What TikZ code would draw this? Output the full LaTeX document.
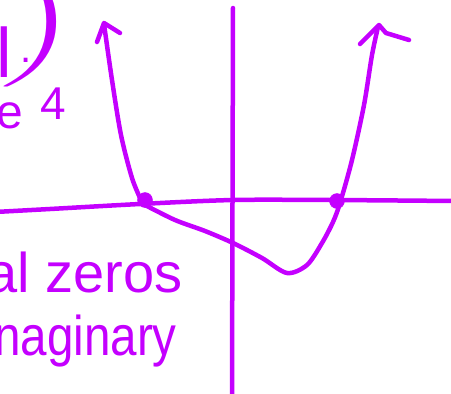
\documentclass[tikz,border=0pt]{standalone}
\usepackage{graphicx}
\usepackage{fontspec}
\setmainfont{Liberation Sans}
\definecolor{pen}{RGB}{196,0,255}
\begin{document}
\begin{tikzpicture}[x=1pt,y=-1pt,
  ink/.style={draw=pen,line width=4.5pt,line cap=round,line join=round},
  dotmark/.style={circle,fill=pen,draw=pen,inner sep=0pt,minimum size=15pt},
  hand/.style={text=pen,inner sep=0pt,anchor=base west}]
\useasboundingbox (0,0) rectangle (451,394);
\begin{scope}
\clip (0,0) rectangle (451,394);
% axes
\draw[ink] plot[smooth] coordinates {(-5,212) (50,209) (140,204) (233,200) (330,200) (455,201)};
\draw[ink] (233,8) -- (232,398);
% zeros
\node[dotmark] (z1) at (145,200) {};
\node[dotmark] (z2) at (337,201) {};
% left branch with arrow
\draw[ink] plot[smooth] coordinates {(141,200) (132,178) (121,135) (112,80) (104,24)};
\coordinate (lt) at (104,23);
\draw[ink] (97,42) -- (lt) -- (120,33);
% lower curve and right branch
\draw[ink] plot[smooth] coordinates {(145,205) (175,220) (205,231) (233,243) (262,258) (287,273) (307,265) (322,243) (333,222) (340,203) (352,160) (364,105) (372,55) (378,27)};
\coordinate (rt) at (379,25);
\draw[ink] (360,44) -- (rt) -- (386,33) -- (409,40);
% texts
\node[hand,font=\fontsize{70}{70}\selectfont] (t1) at (-4,77) {l};
\node[text=pen,inner sep=0pt] (t2) at (41,22) {\resizebox{80pt}{76pt}{$\Bigg)$}};
\node[hand,font=\fontsize{40}{40}\selectfont] (t3) at (20,62) {.};
\node[hand,font=\fontsize{48}{48}\selectfont] (t4) at (-4,128) {e};
\node[hand,font=\fontsize{46}{46}\selectfont] (t5) at (40,119) {4};
\node[hand,font=\fontsize{56}{56}\selectfont] (t6) at (-14,292) {al zeros};
\node[hand,font=\fontsize{56}{56}\selectfont,xscale=0.85] (t7) at (-6,355) {naginary};
\end{scope}
\end{tikzpicture}
\end{document}
